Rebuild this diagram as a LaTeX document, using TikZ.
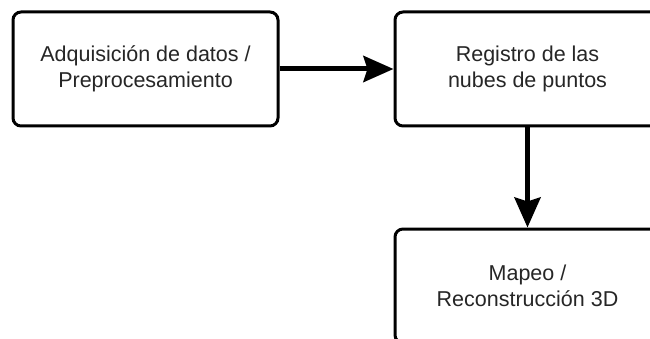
\documentclass[tikz,border=0pt]{standalone}
\usepackage{fontspec}
\setmainfont{Liberation Sans}
\usetikzlibrary{arrows.meta}
\begin{document}
\begin{tikzpicture}[x=1pt,y=-1pt,
  blk/.style={draw=black,line width=3pt,rounded corners=8pt,fill=white,
    minimum width=265pt,minimum height=114pt,inner sep=0pt,align=center,
    font=\fontsize{21.5}{26}\selectfont,text=black!85},
  conn/.style={line width=5pt,-{Stealth[length=30pt,width=26pt,inset=4pt]}}]
\useasboundingbox (0,0) rectangle (650,339);
\begin{scope}
\clip (0,0) rectangle (650,339);
\node[blk] (a) at (145.5,69) {Adquisición de datos /\\Preprocesamiento};
\node[blk] (b) at (527.5,69) {Registro de las\\nubes de puntos};
\node[blk] (c) at (527.5,286) {Mapeo /\\Reconstrucción 3D};
\draw[conn] (a.east) -- (b.west);
\draw[conn] (b.south) -- (c.north);
\end{scope}
\end{tikzpicture}
\end{document}
